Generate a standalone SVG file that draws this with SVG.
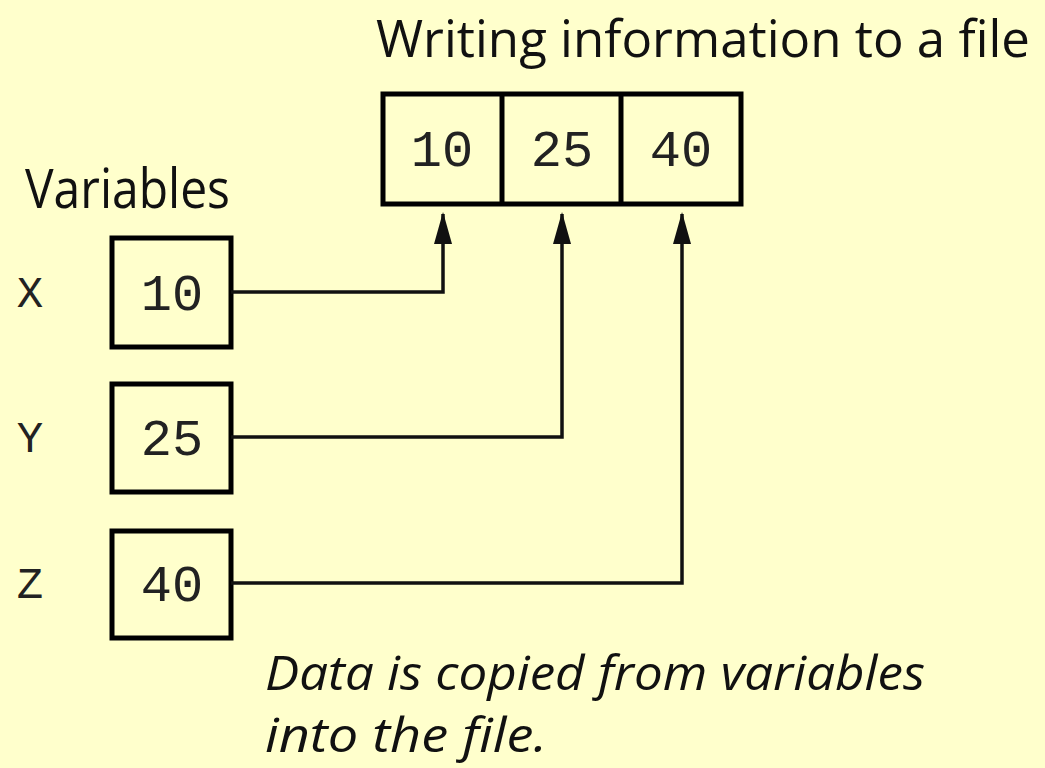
<svg xmlns="http://www.w3.org/2000/svg" width="1045" height="768" viewBox="0 0 1045 768">
<style>
.box{fill:#FFFFCC;stroke:#000;stroke-width:5}
.num{font-family:"Liberation Mono","DejaVu Sans Mono",monospace;font-size:52px;fill:#222}
.lbl{font-family:"Liberation Mono","DejaVu Sans Mono",monospace;font-size:44px;fill:#222}
.sans{font-family:"Open Sans","DejaVu Sans",sans-serif;font-size:54px;fill:#111}
.ital{font-family:"Open Sans","DejaVu Sans",sans-serif;font-size:48px;font-style:italic;fill:#111}
.conn{fill:none;stroke:#111;stroke-width:3.5}
</style>
<defs>
<marker id="arr" markerUnits="userSpaceOnUse" markerWidth="34" markerHeight="20" refX="32" refY="10" orient="auto" viewBox="0 0 34 20">
<path d="M34,10 L2,1 L2,19 Z" fill="#111"/>
</marker>
</defs>
<rect width="1045" height="768" fill="#FFFFCC"/>
<g id="title"><text class="sans" x="376" y="57" font-size="52" style="font-size:52px" textLength="654" lengthAdjust="spacingAndGlyphs">Writing information to a file</text></g>
<g id="file">
<rect class="box" x="383" y="94" width="358" height="110"/>
<line x1="502" y1="94" x2="502" y2="204" stroke="#000" stroke-width="5"/>
<line x1="621" y1="94" x2="621" y2="204" stroke="#000" stroke-width="5"/>
<text class="num" x="442" y="166" text-anchor="middle">10</text>
<text class="num" x="562" y="166" text-anchor="middle">25</text>
<text class="num" x="681" y="166" text-anchor="middle">40</text>
</g>
<g id="variables-label"><text class="sans" x="25" y="208" textLength="205" lengthAdjust="spacingAndGlyphs">Variables</text></g>
<g id="var-x">
<text class="lbl" x="30" y="307" text-anchor="middle">X</text>
<rect class="box" x="112" y="238" width="119" height="109"/>
<text class="num" x="172" y="310" text-anchor="middle">10</text>
</g>
<g id="var-y">
<text class="lbl" x="30" y="452" text-anchor="middle">Y</text>
<rect class="box" x="112" y="384" width="119" height="108"/>
<text class="num" x="172" y="455" text-anchor="middle">25</text>
</g>
<g id="var-z">
<text class="lbl" x="30" y="598" text-anchor="middle">Z</text>
<rect class="box" x="112" y="531" width="119" height="107"/>
<text class="num" x="172" y="601" text-anchor="middle">40</text>
</g>
<g id="connectors">
<path class="conn" d="M231,292 H443 V214" marker-end="url(#arr)"/>
<path class="conn" d="M231,437 H562 V214" marker-end="url(#arr)"/>
<path class="conn" d="M231,583 H682 V214" marker-end="url(#arr)"/>
</g>
<g id="caption">
<text class="ital" x="265" y="690" textLength="660" lengthAdjust="spacingAndGlyphs">Data is copied from variables</text>
<text class="ital" x="265" y="752" textLength="282" lengthAdjust="spacingAndGlyphs">into the file.</text>
</g>
</svg>
